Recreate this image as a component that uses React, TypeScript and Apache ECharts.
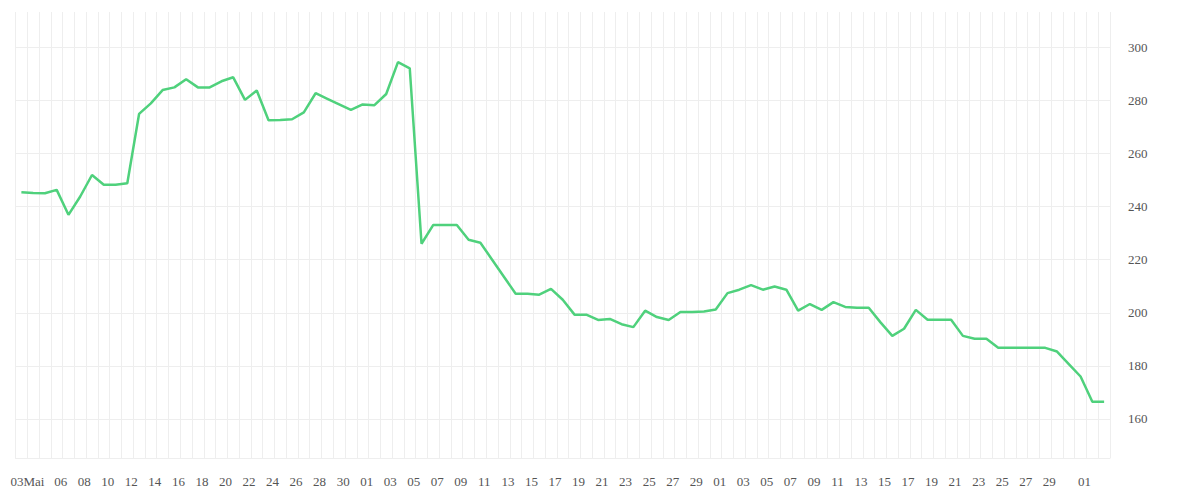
import { useEffect, useRef } from 'react'
import * as echarts from 'echarts'

// Tage (TT.MM), 03.05. bis 03.08.
const DAYS_MAY = ['03.05', '04.05', '05.05', '06.05', '07.05', '08.05', '09.05', '10.05', '11.05', '12.05', '13.05', '14.05', '15.05', '16.05', '17.05', '18.05', '19.05', '20.05', '21.05', '22.05', '23.05', '24.05', '25.05', '26.05', '27.05', '28.05', '29.05', '30.05', '31.05']
const DAYS_JUN = ['01.06', '02.06', '03.06', '04.06', '05.06', '06.06', '07.06', '08.06', '09.06', '10.06', '11.06', '12.06', '13.06', '14.06', '15.06', '16.06', '17.06', '18.06', '19.06', '20.06', '21.06', '22.06', '23.06', '24.06', '25.06', '26.06', '27.06', '28.06', '29.06', '30.06']
const DAYS_JUL = ['01.07', '02.07', '03.07', '04.07', '05.07', '06.07', '07.07', '08.07', '09.07', '10.07', '11.07', '12.07', '13.07', '14.07', '15.07', '16.07', '17.07', '18.07', '19.07', '20.07', '21.07', '22.07', '23.07', '24.07', '25.07', '26.07', '27.07', '28.07', '29.07', '30.07', '31.07']
const DAYS_AUG = ['01.08', '02.08', '03.08']
const CATEGORIES = [...DAYS_MAY, ...DAYS_JUN, ...DAYS_JUL, ...DAYS_AUG]

// Tage mit Beschriftung auf der x-Achse
const LABELED_DAYS = [
  '03.05', '06.05', '08.05', '10.05', '12.05', '14.05', '16.05', '18.05', '20.05', '22.05', '24.05', '26.05', '28.05', '30.05',
  '01.06', '03.06', '05.06', '07.06', '09.06', '11.06', '13.06', '15.06', '17.06', '19.06', '21.06', '23.06', '25.06', '27.06', '29.06',
  '01.07', '03.07', '05.07', '07.07', '09.07', '11.07', '13.07', '15.07', '17.07', '19.07', '21.07', '23.07', '25.07', '27.07', '29.07',
  '01.08'
]
const FIRST_MONTH_NAME = 'Mai'

const VALUES_MAY = [245.4, 245.1, 245.0, 246.3, 236.9, 243.8, 251.9, 248.2, 248.2, 248.8, 274.9, 278.9, 283.9, 284.9, 288.0, 284.9, 284.9, 287.2, 288.7, 280.2, 283.7, 272.5, 272.6, 272.9, 275.5, 282.7, 280.6, 278.5, 276.4]
const VALUES_JUN = [278.5, 278.2, 282.4, 294.4, 292.1, 226.0, 233.1, 233.1, 233.1, 227.5, 226.4, 220.0, 213.6, 207.2, 207.2, 206.8, 209.0, 204.9, 199.3, 199.3, 197.3, 197.7, 195.7, 194.6, 200.8, 198.4, 197.3, 200.3, 200.3, 200.5]
const VALUES_JUL = [201.2, 207.4, 208.7, 210.4, 208.7, 209.9, 208.7, 200.8, 203.3, 201.1, 204.0, 202.2, 201.9, 201.9, 196.4, 191.3, 194.0, 201.1, 197.4, 197.4, 197.4, 191.3, 190.2, 190.2, 186.8, 186.8, 186.8, 186.8, 186.8, 185.4, 180.7]
const VALUES_AUG = [176.0, 166.5, 166.5]
const VALUES = [...VALUES_MAY, ...VALUES_JUN, ...VALUES_JUL, ...VALUES_AUG]

const Y_MIN = 145.3
const Y_MAX = 313.3
const Y_STEP = 20

const LINE_COLOR = '#4fd17c'
const GRID_COLOR = '#eeeeee'
const TEXT_COLOR = '#555555'
const FONT = 'serif'
const FONT_SIZE = 13

export default function App() {
  const chartRef = useRef<HTMLDivElement>(null)

  useEffect(() => {
    const host = chartRef.current
    if (!host) return
    document.body.style.margin = '0'

    const chart = echarts.init(host, null, { renderer: 'svg' })
    const labeled = new Set(LABELED_DAYS)

    const option: echarts.EChartsOption = {
      animation: false,
      backgroundColor: '#ffffff',
      grid: { left: 15.5, right: 90, top: 12, bottom: 42 },
      xAxis: {
        type: 'category',
        data: CATEGORIES,
        boundaryGap: true,
        axisLine: { lineStyle: { color: GRID_COLOR, width: 1 } },
        axisTick: { interval: 0, length: 10, lineStyle: { color: GRID_COLOR } },
        splitLine: { show: true, interval: 0, lineStyle: { color: GRID_COLOR, width: 1 } },
        axisLabel: {
          interval: (_i: number, value: string) => labeled.has(value),
          margin: 17,
          color: TEXT_COLOR,
          fontSize: FONT_SIZE,
          fontFamily: FONT,
          formatter: (value: string, index: number) => {
            const day = value.split('.')[0]
            return index === 0 ? `{first|${day}${FIRST_MONTH_NAME}}` : `{d|${day}}`
          },
          rich: {
            first: { padding: [0, 0, 0, 12], color: TEXT_COLOR, fontSize: FONT_SIZE, fontFamily: FONT },
            d: { padding: [0, 0, 0, 8], color: TEXT_COLOR, fontSize: FONT_SIZE, fontFamily: FONT }
          }
        }
      },
      yAxis: {
        type: 'value',
        position: 'right',
        min: Y_MIN,
        max: Y_MAX,
        splitNumber: 8,
        minInterval: Y_STEP,
        maxInterval: Y_STEP,
        axisLine: { show: false },
        axisTick: { show: false },
        splitLine: {
          show: true,
          showMinLine: false,
          showMaxLine: false,
          lineStyle: { color: GRID_COLOR, width: 1 }
        },
        axisLabel: {
          margin: 18,
          color: TEXT_COLOR,
          fontSize: FONT_SIZE,
          fontFamily: FONT,
          showMinLabel: false,
          showMaxLabel: false
        }
      },
      series: [
        {
          type: 'line',
          data: VALUES,
          showSymbol: false,
          symbol: 'none',
          lineStyle: { color: LINE_COLOR, width: 2.5 },
          itemStyle: { color: LINE_COLOR }
        }
      ]
    }

    chart.setOption(option)

    return () => {
      chart.dispose()
    }
  }, [])

  return <div ref={chartRef} style={{ width: 1200, height: 500 }} />
}
